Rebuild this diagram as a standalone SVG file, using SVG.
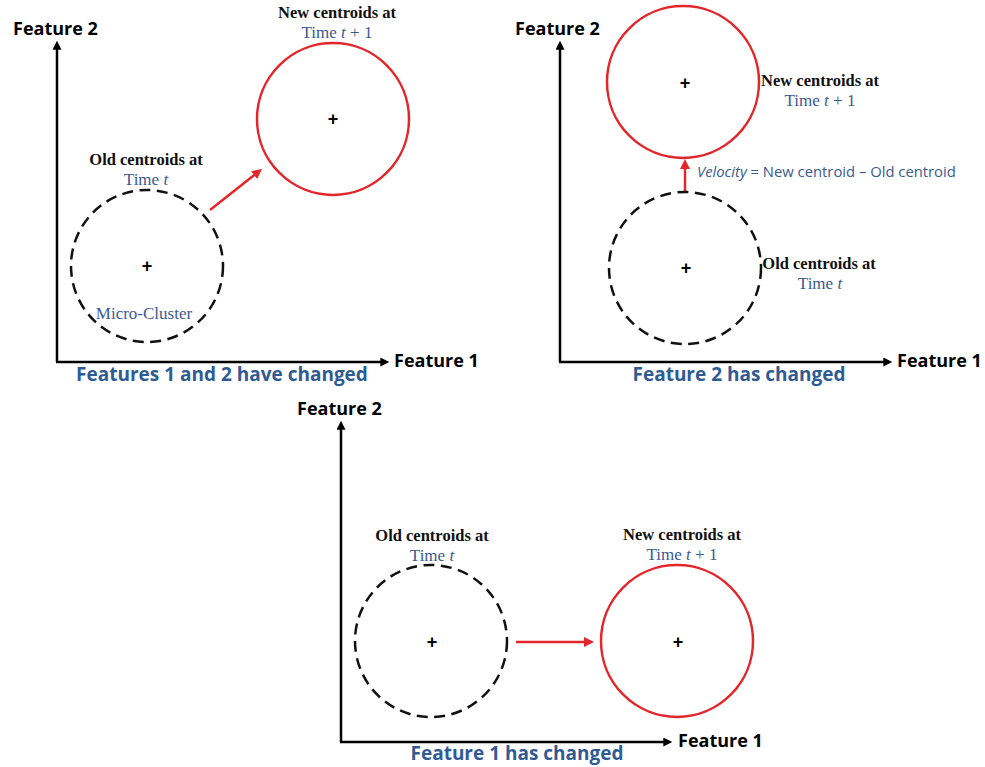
<svg xmlns="http://www.w3.org/2000/svg" width="985" height="767" viewBox="0 0 985 767">
<style>
.axis{stroke:#000;stroke-width:2.5;fill:none}
.mv{stroke:#e3262b;stroke-width:2.5;fill:none}
.old{stroke:#111;stroke-width:2.5;fill:none;stroke-dasharray:11 6.5}
.new{stroke:#e3262b;stroke-width:2.5;fill:none}
.ax{font-family:"Open Sans","Liberation Sans",sans-serif;font-weight:700;font-size:18px;fill:#000}
.cap{font-family:"Open Sans","Liberation Sans",sans-serif;font-weight:700;font-size:19px;fill:#2f5b93;text-anchor:middle}
.lbl{font-family:"Liberation Serif","Times New Roman",serif;font-weight:700;font-size:16.5px;fill:#111;text-anchor:middle}
.tm{font-family:"Liberation Serif","Times New Roman",serif;font-size:17px;fill:#3b5a8f;text-anchor:middle}
.it{font-style:italic}
.vel{font-family:"Open Sans","Liberation Sans",sans-serif;font-size:14.8px;fill:#3b5a8f}
.plus{font-family:"Liberation Sans",Arial,sans-serif;font-weight:700;font-size:18px;fill:#000;text-anchor:middle}
</style>
<defs>
<marker id="ak" viewBox="0 0 10 10" refX="3" refY="5" markerWidth="10" markerHeight="9" orient="auto" markerUnits="userSpaceOnUse"><path d="M0,0 L10,5 L0,10 z" fill="#000"/></marker>
<marker id="ar" viewBox="0 0 10 10" refX="3" refY="5" markerWidth="10" markerHeight="10" orient="auto" markerUnits="userSpaceOnUse"><path d="M0,0 L10,5 L0,10 z" fill="#e3262b"/></marker>
</defs>
<rect width="985" height="767" fill="#fff"/>

<g id="connectors">
<path class="axis" d="M57,362 V47" marker-end="url(#ak)"/>
<path class="axis" d="M56,362 H383" marker-end="url(#ak)"/>
<path class="axis" d="M560,362 V47" marker-end="url(#ak)"/>
<path class="axis" d="M559,362 H886" marker-end="url(#ak)"/>
<path class="axis" d="M341,742 V427" marker-end="url(#ak)"/>
<path class="axis" d="M340,742 H666" marker-end="url(#ak)"/>
<path class="mv" d="M210,210 L256.5,173.3" marker-end="url(#ar)"/>
<path class="mv" d="M685,193 V166" marker-end="url(#ar)"/>
<path class="mv" d="M516,642 H587" marker-end="url(#ar)"/>
</g>

<g id="panel1-labels">
<text class="ax" x="13" y="35">Feature 2</text>
<text class="ax" x="394" y="367">Feature 1</text>
<text class="cap" x="222" y="381">Features 1 and 2 have changed</text>
</g>
<g id="p1-old">
<circle class="old" cx="147" cy="266" r="76"/>
<text class="plus" x="147" y="272">+</text>
<text class="lbl" x="146" y="165">Old centroids at</text>
<text class="tm" x="146" y="185">Time <tspan class="it">t</tspan></text>
<text class="tm" x="144" y="319">Micro-Cluster</text>
</g>
<g id="p1-new">
<circle class="new" cx="333" cy="119" r="76"/>
<text class="plus" x="333" y="125">+</text>
<text class="lbl" x="337" y="18">New centroids at</text>
<text class="tm" x="337" y="38">Time <tspan class="it">t</tspan> + 1</text>
</g>

<g id="panel2-labels">
<text class="ax" x="515" y="35">Feature 2</text>
<text class="ax" x="897" y="367">Feature 1</text>
<text class="cap" x="739" y="381">Feature 2 has changed</text>
<text class="vel" x="697" y="177"><tspan class="it">Velocity</tspan> = New centroid – Old centroid</text>
</g>
<g id="p2-new">
<circle class="new" cx="683" cy="82" r="76"/>
<text class="plus" x="685" y="89">+</text>
<text class="lbl" x="820" y="86">New centroids at</text>
<text class="tm" x="820" y="106">Time <tspan class="it">t</tspan> + 1</text>
</g>
<g id="p2-old">
<circle class="old" cx="685" cy="268" r="76"/>
<text class="plus" x="686" y="274">+</text>
<text class="lbl" x="819" y="269">Old centroids at</text>
<text class="tm" x="820" y="289">Time <tspan class="it">t</tspan></text>
</g>

<g id="panel3-labels">
<text class="ax" x="297" y="415">Feature 2</text>
<text class="ax" x="678" y="747">Feature 1</text>
<text class="cap" x="517" y="760">Feature 1 has changed</text>
</g>
<g id="p3-old">
<circle class="old" cx="431" cy="641" r="76"/>
<text class="plus" x="432" y="648">+</text>
<text class="lbl" x="432" y="541">Old centroids at</text>
<text class="tm" x="432" y="561">Time <tspan class="it">t</tspan></text>
</g>
<g id="p3-new">
<circle class="new" cx="677" cy="641" r="76"/>
<text class="plus" x="678" y="648">+</text>
<text class="lbl" x="682" y="540">New centroids at</text>
<text class="tm" x="682" y="560">Time <tspan class="it">t</tspan> + 1</text>
</g>
</svg>
